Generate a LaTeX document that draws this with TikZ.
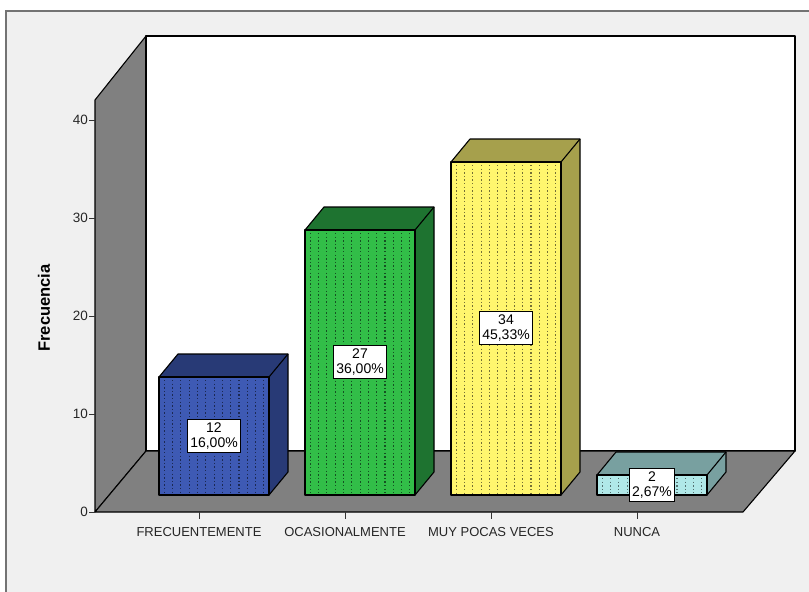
\documentclass[tikz,border=0pt]{standalone}
\usepackage{fontspec}
\setmainfont{Liberation Sans}
\definecolor{bgc}{HTML}{F0F0F0}
\definecolor{wallc}{HTML}{808080}
\definecolor{blueF}{RGB}{62,90,180}
\definecolor{blueD}{RGB}{40,58,118}
\definecolor{greenF}{RGB}{50,190,72}
\definecolor{greenD}{RGB}{30,115,48}
\definecolor{yelF}{RGB}{255,246,110}
\definecolor{yelD}{RGB}{166,160,76}
\definecolor{cyanF}{RGB}{176,232,232}
\definecolor{cyanD}{RGB}{120,160,160}
\tikzset{
  edge/.style={draw=black,line width=1.1pt,line join=round},
  valbox/.style={draw=black,fill=white,line width=0.8pt,inner xsep=2.5pt,inner ysep=3pt,align=center,font=\fontsize{14}{15}\selectfont},
  ticklab/.style={font=\fontsize{13.5}{15}\selectfont,text=black!85},
  catlab/.style={font=\fontsize{13}{15}\selectfont,text=black!85},
}
\newcommand{\mybar}[5]{%
  % #1 x0, #2 top y, #3 front colour, #4 dark colour, #5 number of dot columns
  \fill[#4] (#1,#2) -- ++(19,-23) -- ++(110,0) -- ++(0,{495-(#2)}) -- ++(-19,23) -- ++(-110,0) -- cycle;
  \fill[#3] (#1,#2) rectangle ++(110,{495-(#2)});
  \foreach \k in {1,...,#5} \draw[#4!70!black,line width=1.1pt,dash pattern=on 1.4pt off 2.2pt] ({#1+8.3*\k-3},{#2+3}) -- ({#1+8.3*\k-3},493);
  \draw[edge] (#1,#2) rectangle ++(110,{495-(#2)});
  \draw[edge] (#1,#2) -- ++(19,-23) -- ++(110,0) -- ++(0,{495-(#2)}) -- ++(-19,23);
  \draw[edge] ({#1+110},#2) -- ++(19,-23);
}
\begin{document}
\begin{tikzpicture}[x=1pt,y=-1pt]
\useasboundingbox (0,0) rectangle (809,592);
\fill[white] (0,0) rectangle (809,592);
\fill[bgc] (6,11) rectangle (809,592);
\draw[black!55,line width=1.6pt] (6,592) -- (6,11) -- (809,11);
% walls
\filldraw[fill=wallc,edge] (95,512) -- (95,100) -- (146,36) -- (146,451) -- cycle;
\filldraw[fill=white,edge] (146,36) rectangle (795,451);
\filldraw[fill=wallc,edge] (95,512) -- (146,451) -- (795,451) -- (743,512) -- cycle;
% y axis
\foreach \v/\yy in {0/512,10/414,20/316,30/218,40/120} {
  \draw[black!80,line width=0.9pt] (89,\yy) -- (95,\yy);
  \node[ticklab,anchor=east,inner sep=1pt] (t\v) at (89,\yy) {\v};
}
\node[font=\fontsize{16.5}{18}\selectfont\bfseries,rotate=90] (ylab) at (44,308) {Frecuencia};
% bars
\mybar{159}{377}{blueF}{blueD}{13}
\mybar{305}{230}{greenF}{greenD}{13}
\mybar{451}{162}{yelF}{yelD}{13}
\mybar{597}{475}{cyanF}{cyanD}{13}
% value labels
\node[valbox] (v1) at (214,436) {12\\16,00\%};
\node[valbox] (v2) at (360,362) {27\\36,00\%};
\node[valbox] (v3) at (506,328) {34\\45,33\%};
\node[valbox] (v4) at (652,485) {2\\2,67\%};
% category ticks and labels
\foreach \xx/\lab/\nm in {199/FRECUENTEMENTE/c1,345/OCASIONALMENTE/c2,491/MUY POCAS VECES/c3,637/NUNCA/c4} {
  \draw[black!80,line width=0.9pt] (\xx,512) -- (\xx,519);
  \node[catlab] (\nm) at (\xx,532) {\lab};
}
\end{tikzpicture}
\end{document}
